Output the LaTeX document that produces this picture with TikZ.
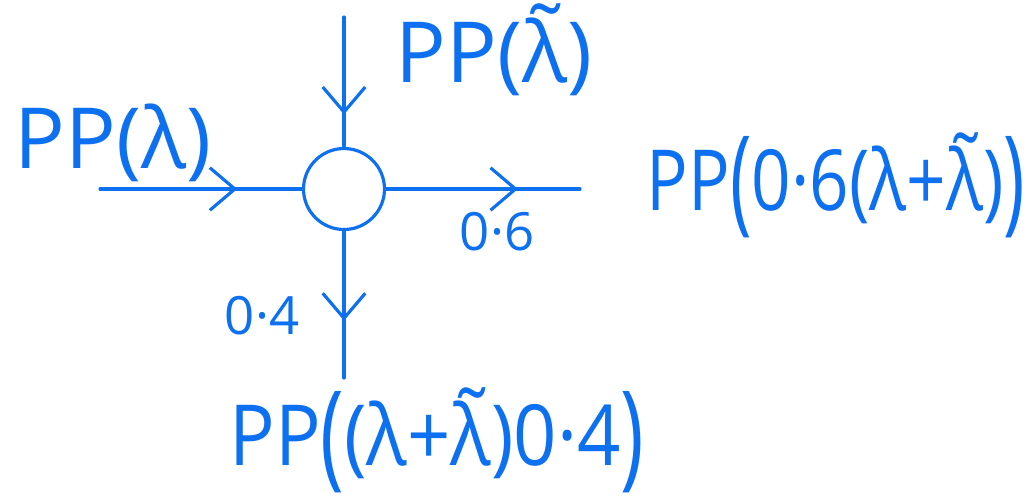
\documentclass[tikz,border=0pt]{standalone}
\usepackage{graphicx}
\usepackage{fontspec}
\setmainfont{Open Sans}
\usepackage{tikz}
\usetikzlibrary{arrows.meta,decorations.markings}
\definecolor{pen}{RGB}{12,112,240}
% lambda with tilde, and tall outer brackets
\newcommand\tlam{\leavevmode\hbox{\ooalign{λ\cr\hidewidth\raisebox{0.2em}{\char"02DC}\hidewidth\cr}}}
\newcommand\tallpar[1]{\raisebox{-0.1em}{\scalebox{1.05}[1.38]{#1}}}

\begin{document}
\begin{tikzpicture}[x=0.02cm,y=-0.02cm,
  pen/.style={draw=pen,line width=1.8pt,line cap=round},
  junc/.style={circle,pen,minimum size=1.62cm,inner sep=0pt},
  flow/.style={pen,postaction={decorate},decoration={markings,
      mark=at position #1 with {\arrow[pen,line width=1.8pt]{Straight Barb[length=5mm,width=8.5mm]}}}},
  flow/.default=0.68,
  lbl/.style={text=pen,inner sep=0pt,font=\fontsize{48}{54}\selectfont},
  num/.style={text=pen,inner sep=0pt,font=\fontsize{30}{34}\selectfont}
]
\useasboundingbox (0,0) rectangle (1035,495);
\node[junc] (mix) at (344,189) {};
\coordinate (inTop) at (344,17);
\coordinate (inLeft) at (100,189);
\coordinate (outRight) at (580,189);
\coordinate (outBot) at (344,378);
% streams into and out of the node
\draw[flow=0.75] (inTop) -- (mix);
\draw[flow=0.68] (inLeft) -- (mix);
\draw[flow=0.68] (mix) -- (outRight);
\draw[flow=0.61] (mix) -- (outBot);
% labels
\node[lbl] (ppA) at (113,143) {PP(λ)};
\node[lbl] (ppB) at (494,57) {PP(\tlam)};
\node[lbl] (ppOut) at (836,187) {\scalebox{0.82}[1]{PP\tallpar{(}0·6(λ+\tlam)\tallpar{)}}};
\node[lbl] (ppDown) at (437,442) {\scalebox{0.9}[1]{PP\tallpar{(}(λ+\tlam)0·4\tallpar{)}}};
\node[num] (pR) at (497,232) {0·6};
\node[num] (pD) at (262,316) {0·4};
\end{tikzpicture}
\end{document}
